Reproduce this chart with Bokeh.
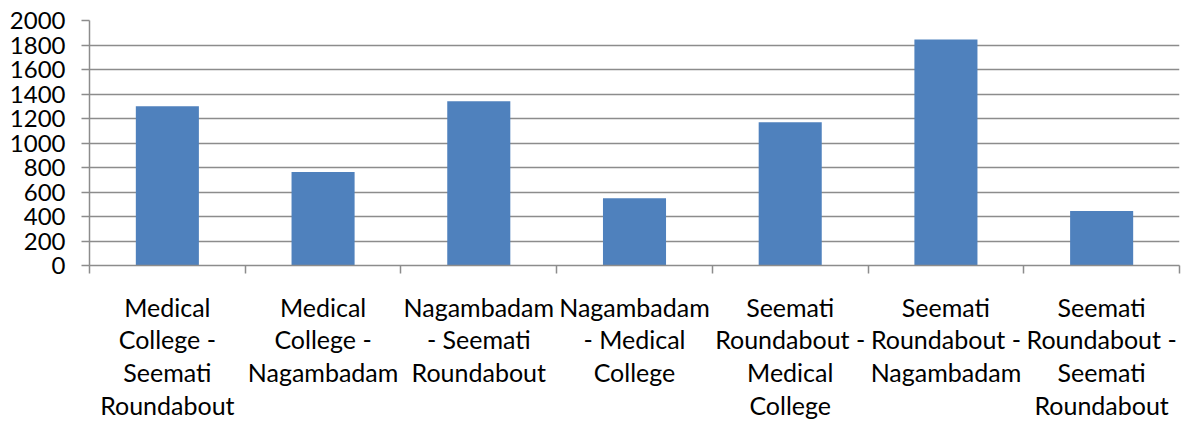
from bokeh.plotting import figure
from bokeh.models import Range1d, FixedTicker
from bokeh.embed import file_html
from bokeh.resources import INLINE

categories = [
    "Medical\nCollege -\nSeemati\nRoundabout",
    "Medical\nCollege -\nNagambadam",
    "Nagambadam\n- Seemati\nRoundabout",
    "Nagambadam\n- Medical\nCollege",
    "Seemati\nRoundabout -\nMedical\nCollege",
    "Seemati\nRoundabout -\nNagambadam",
    "Seemati\nRoundabout -\nSeemati\nRoundabout",
]
values = [1300, 763, 1340, 550, 1170, 1845, 445]
y_ticks = list(range(0, 2001, 200))

FONT = "Lato"
AXIS_COL = "#8c8c8c"

positions = list(range(len(categories)))

p = figure(width=1182, height=423, output_backend="svg", toolbar_location=None,
           x_range=Range1d(-0.5, len(categories) - 0.5), y_range=Range1d(0, 2000),
           min_border_left=89, min_border_top=20, min_border_right=3, min_border_bottom=158)
p.outline_line_color = None
p.background_fill_color = "white"

p.vbar(x=positions, top=values, width=0.405, bottom=0, fill_color="#4F81BD", line_color=None)

# x axis
xa = p.xaxis[0]
xa.ticker = FixedTicker(ticks=positions, minor_ticks=[i - 0.5 for i in range(len(categories) + 1)])
xa.major_label_overrides = {i: c for i, c in zip(positions, categories)}
xa.major_tick_out = 0
xa.major_tick_in = 0
xa.minor_tick_out = 8
xa.minor_tick_in = 0
xa.minor_tick_line_color = AXIS_COL
xa.minor_tick_line_width = 1.5
xa.axis_line_color = AXIS_COL
xa.axis_line_width = 1.5
xa.major_label_text_font = FONT
xa.major_label_text_font_size = "25px"
xa.major_label_text_color = "black"
xa.major_label_text_line_height = 1.09
xa.major_label_standoff = 18

# y axis
ya = p.yaxis[0]
ya.ticker = FixedTicker(ticks=y_ticks)
ya.major_tick_out = 8
ya.major_tick_in = 0
ya.minor_tick_out = 0
ya.minor_tick_in = 0
ya.major_tick_line_color = AXIS_COL
ya.major_tick_line_width = 1.5
ya.axis_line_color = AXIS_COL
ya.axis_line_width = 1.5
ya.major_label_text_font = FONT
ya.major_label_text_font_size = "24px"
ya.major_label_text_color = "black"
ya.major_label_standoff = 16

p.xgrid.grid_line_color = None
p.ygrid.ticker = FixedTicker(ticks=y_ticks)
p.ygrid.grid_line_color = AXIS_COL
p.ygrid.grid_line_width = 1.5

open("out.html", "w").write(file_html(p, INLINE))
